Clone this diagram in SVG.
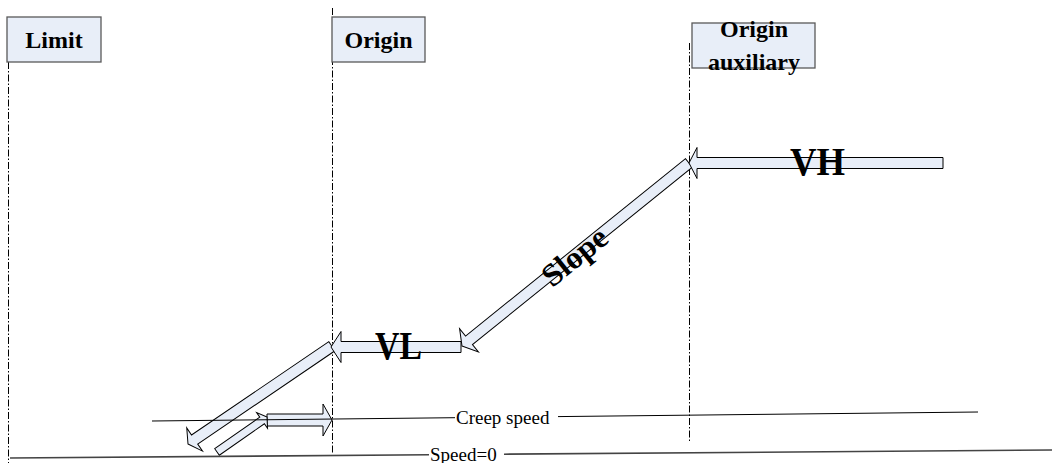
<svg xmlns="http://www.w3.org/2000/svg" width="1056" height="463" viewBox="0 0 1056 463">
<style>
.box{fill:#E8EEF8;stroke:#595959;stroke-width:1.3}
.hdr{font-family:"Liberation Serif","Times New Roman",serif;font-weight:bold;font-size:24px;fill:#000;text-anchor:middle}
.big{font-family:"Liberation Serif","Times New Roman",serif;font-weight:bold;fill:#000}
.lbl{font-family:"Liberation Serif","Times New Roman",serif;font-size:19px;fill:#000}
.dash{stroke:#000;stroke-width:1;stroke-dasharray:7 2 1.5 2;fill:none}
.arr{fill:#E8EEF8;stroke:#000;stroke-width:1}
.ln{stroke:#000;stroke-width:1;fill:none}
.ln0{stroke:#444;stroke-width:1.6;fill:none}
</style>
<rect width="1056" height="463" fill="#fff"/>
<g id="guides">
<line class="dash" x1="8.5" y1="62" x2="8.5" y2="463"/>
<line class="dash" x1="332.5" y1="8" x2="332.5" y2="454"/>
<line class="dash" x1="689.5" y1="43" x2="689.5" y2="441"/>
</g>
<g id="limit">
<rect class="box" x="7" y="17" width="94" height="45"/>
<text class="hdr" x="54" y="48">Limit</text>
</g>
<g id="origin">
<rect class="box" x="332" y="17" width="93" height="45"/>
<text class="hdr" x="378.5" y="48">Origin</text>
</g>
<g id="origin-auxiliary">
<rect class="box" x="692" y="23" width="123" height="45"/>
<text class="hdr" x="754" y="37">Origin</text>
<text class="hdr" x="754" y="70">auxiliary</text>
</g>
<g id="connectors">
<polygon class="arr" transform="translate(188,444) rotate(145.8)" points="0,0 -8,-14 -8,-5.5 -174,-5.5 -174,5.5 -8,5.5 -8,14"/>
<polygon class="arr" transform="translate(331,347) rotate(180)" points="0,0 -10,-15.5 -10,-5.5 -130,-5.5 -130,5.5 -10,5.5 -10,15.5"/>
<polygon class="arr" transform="translate(462,346) rotate(141.1)" points="0,0 -9,-15 -9,-5.5 -291.6,-5.5 -291.6,5.5 -9,5.5 -9,15"/>
<polygon class="arr" transform="translate(689,163) rotate(180)" points="0,0 -8,-15.5 -8,-5.5 -254,-5.5 -254,5.5 -8,5.5 -8,15.5"/>
<polygon class="arr" transform="translate(332,420) rotate(0)" points="0,0 -9,-16 -9,-6 -65,-6 -65,6 -9,6 -9,16"/>
<polygon class="arr" transform="translate(267,417) rotate(-35)" points="0,0 -6,-9.5 -6,-4 -61,-4 -61,4 -6,4 -6,9.5"/>
</g>
<g id="speed-lines">
<line class="ln" x1="152" y1="421" x2="455" y2="417.7"/>
<line class="ln" x1="558" y1="416.6" x2="978" y2="412"/>
<text class="lbl" x="456" y="424">Creep speed</text>
<line class="ln0" x1="10" y1="458" x2="429" y2="454.8"/>
<line class="ln0" x1="504" y1="454.2" x2="1052" y2="450"/>
<text class="lbl" x="430" y="461">Speed=0</text>
</g>
<g id="labels">
<text class="big" x="375" y="359" font-size="40" textLength="47" lengthAdjust="spacingAndGlyphs">VL</text>
<text class="big" x="790" y="175" font-size="39" textLength="55" lengthAdjust="spacingAndGlyphs">VH</text>
<text class="big" font-size="32" text-anchor="middle" transform="translate(575,257) rotate(-38.9)" x="0" y="10">Slope</text>
</g>
</svg>
